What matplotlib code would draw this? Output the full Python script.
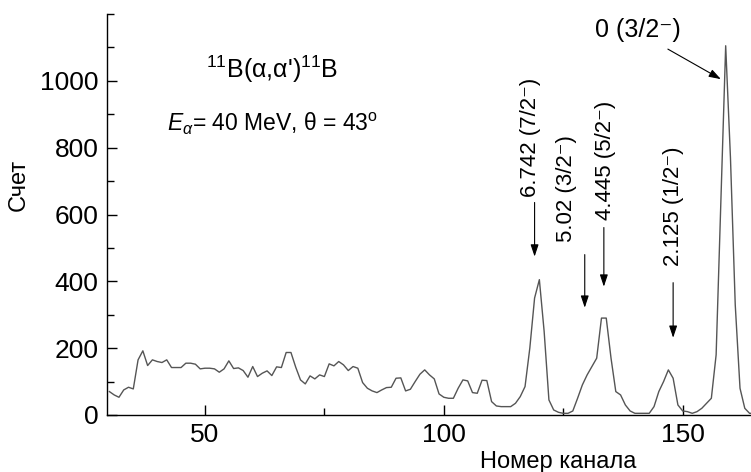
import matplotlib
matplotlib.use("Agg")
import matplotlib.pyplot as plt
import numpy as np

plt.rcParams["font.family"] = ["Liberation Sans", "DejaVu Sans"]
plt.rcParams["mathtext.fontset"] = "custom"
plt.rcParams["mathtext.rm"] = "Liberation Sans"
plt.rcParams["mathtext.it"] = "Liberation Sans:italic"

# спектр 11B(a,a')11B, отсчёты по каналам 30..165
channels = np.arange(30, 166)
counts = [
    70, 60, 53, 75, 83, 78, 165, 192, 148, 165,
    160, 157, 165, 142, 142, 142, 155, 155, 152, 138,
    140, 140, 138, 128, 138, 162, 139, 141, 133, 113,
    145, 115, 125, 132, 118, 144, 142, 187, 187, 143,
    105, 93, 117, 108, 120, 115, 153, 147, 160, 150,
    133, 145, 140, 97, 80, 72, 67, 75, 82, 83,
    110, 111, 72, 77, 100, 122, 135, 120, 108, 63,
    53, 50, 50, 80, 105, 102, 67, 65, 104, 103,
    40, 27, 25, 25, 25, 35, 55, 85, 200, 350,
    405, 250, 45, 15, 8, 5, 5, 12, 50, 90,
    120, 145, 170, 290, 290, 170, 70, 60, 30, 12,
    5, 5, 5, 5, 25, 70, 100, 135, 110, 30,
    12, 10, 5, 10, 20, 35, 50, 180, 640, 1105,
    770, 330, 80, 20, 5, 5,
]

# уровни возбуждения 11B: энергия (МэВ) и J^pi
level_labels = ["6.742 (7/2⁻)", "5.02 (3/2⁻)", "4.445 (5/2⁻)",
                "2.125 (1/2⁻)", "0 (3/2⁻)"]
level_channels = [119, 129.5, 133.5, 148, 158]

x_ticks = [50, 100, 150]
y_ticks = [0, 200, 400, 600, 800, 1000]

fig = plt.figure(figsize=(7.51, 4.72), dpi=100)
ax = fig.add_axes([0.1425, 0.1208, 0.8575, 0.8495])

ax.plot(channels, counts, color="#555555", linewidth=1.0)

ax.set_xlim(29.5, 164.3)
ax.set_ylim(0, 1200)
ax.set_xticks(x_ticks)
ax.set_xticks([75, 125], minor=True)
ax.set_yticks(y_ticks)
ax.set_yticks([100, 300, 500, 700, 900, 1100, 1200], minor=True)

for side in ("top", "right"):
    ax.spines[side].set_visible(False)
for side in ("left", "bottom"):
    ax.spines[side].set_linewidth(1.0)

ax.tick_params(which="major", direction="in", length=7, width=1.0,
               labelsize=19, pad=6)
ax.tick_params(which="minor", direction="in", length=5, width=1.0)

ax.set_ylabel("Счет", fontsize=17, ha="center", va="center")
ax.yaxis.set_label_coords(-0.137, 0.574)
ax.set_xlabel("Номер канала", fontsize=17, ha="center", va="center")
ax.xaxis.set_label_coords(0.70, -0.117)

ax.text(64, 1035, "$^{11}$B(α,α')$^{11}$B", fontsize=18,
        ha="center", va="center")
ax.text(42, 870, r"$E_{\alpha}$= 40 MeV, θ = 43$^{\rm o}$", fontsize=16.5,
        ha="left", va="center")

arrow_kw = dict(arrowstyle="-|>,head_length=0.6,head_width=0.2",
                color="black", lw=0.8, shrinkA=0, shrinkB=0,
                mutation_scale=12)

# вертикальные подписи и стрелки к пикам
label_pos = [(118.2, 830), (125.7, 678), (133.9, 762), (148.1, 626)]
arrow_span = [(636, 474), (480, 321), (561, 384), (396, 231)]
for text, ch, (tx, ty), (y0, y1) in zip(level_labels[:4], level_channels[:4],
                                        label_pos, arrow_span):
    ax.text(tx, ty, text, rotation=90, fontsize=16, ha="center", va="center")
    ax.annotate("", xy=(ch, y1), xytext=(ch, y0), arrowprops=arrow_kw)

# основное состояние
ax.text(140.6, 1152, level_labels[4], fontsize=18, ha="center", va="center")
ax.annotate("", xy=(level_channels[4], 1005), xytext=(146.9, 1095),
            arrowprops=arrow_kw)

fig.savefig("out.png", dpi=100)
